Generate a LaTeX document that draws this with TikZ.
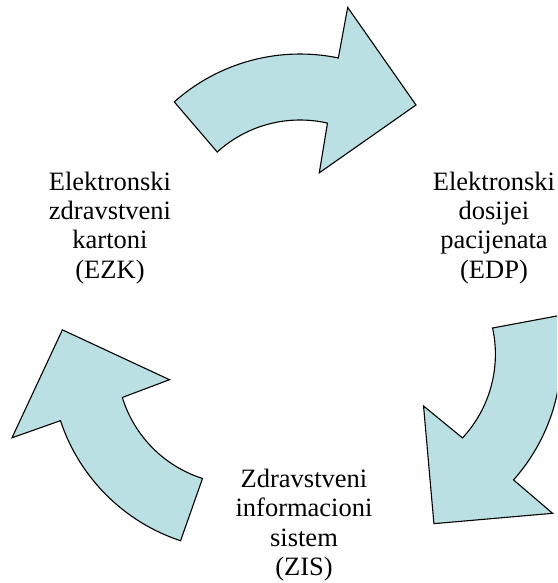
\documentclass[tikz,border=0pt]{standalone}
\usepackage{fontspec}
\setmainfont{Liberation Serif}
\definecolor{arrowfill}{RGB}{187,224,227}
\tikzset{
  arrowbody/.style={fill=arrowfill, draw=black, line width=1.1pt, line join=miter},
  label/.style={align=center, anchor=base, inner sep=0pt, font={\fontsize{26.5}{29.4}\selectfont}},
  cyclearrow/.pic={
    \path[arrowbody, shift={(-4.1,-76.5)}]
      (-131.7:189) arc[start angle=-131.7, end angle=-78.3, radius=189]
      -- (47.7,-235.6) -- (116,-138) -- (19.3,-70.2)
      -- (-77.1:123) arc[start angle=-77.1, end angle=-132.3, radius=123]
      -- cycle;
  }
}
\begin{document}
\begin{tikzpicture}[x=1pt,y=-1pt]
\useasboundingbox (0,0) rectangle (557,583);
\clip (0,0) rectangle (557,583);
\coordinate (O) at (304.1,319.5);
\pic at (O) {cyclearrow};
\pic[rotate=-120] at (O) {cyclearrow};
\pic[rotate=120] at (O) {cyclearrow};
\node[label] (ezk) at (110,278.3) {Elektronski\\zdravstveni\\kartoni\\(EZK)};
\node[label] (edp) at (494,278.3) {Elektronski\\dosijei\\pacijenata\\(EDP)};
\node[label] (zis) at (304,575.5) {Zdravstveni\\informacioni\\sistem\\(ZIS)};
\end{tikzpicture}
\end{document}
